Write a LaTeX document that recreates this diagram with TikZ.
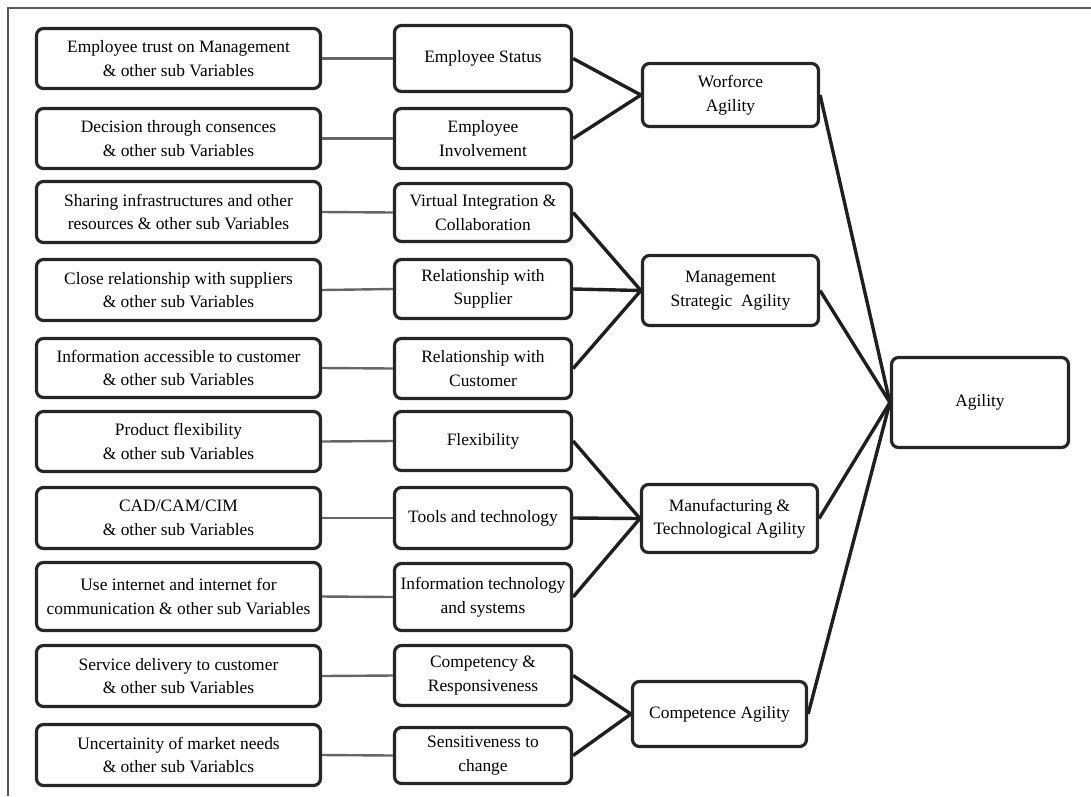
\documentclass[tikz,border=0pt]{standalone}
\usepackage{fontspec}
\setmainfont{Liberation Serif}
\begin{document}
\begin{tikzpicture}[x=1pt,y=-1pt,
  box/.style={draw=black!85, line width=3.2pt, rounded corners=7pt, fill=white,
    align=center, inner sep=2pt, font=\fontsize{17.4}{23.5}\selectfont},
  leftbox/.style={box, minimum width=284pt},
  midbox/.style={box, minimum width=177pt},
  aggbox/.style={box, minimum width=176pt},
  thin/.style={draw=black!60, line width=2.4pt},
  thick/.style={draw=black!88, line width=3.4pt}]
\useasboundingbox (0,0) rectangle (1091,796);
% outer frame
\draw[black!65, line width=1.6pt] (8,796) -- (8,8) -- (1091,8);

% sub-variable boxes
\node[leftbox, minimum height=60pt] (l1) at (178.5,58.5) {Employee trust on Management\\\& other sub Variables};
\node[leftbox, minimum height=60pt] (l2) at (178.5,138.5) {Decision through consences\\\& other sub Variables};
\node[leftbox, minimum height=61pt] (l3) at (178.5,212) {Sharing infrastructures and other\\resources \& other sub Variables};
\node[leftbox, minimum height=61pt] (l4) at (178.5,290) {Close relationship with suppliers\\\& other sub Variables};
\node[leftbox, minimum height=59pt] (l5) at (178.5,368) {Information accessible to customer\\\& other sub Variables};
\node[leftbox, minimum height=60pt] (l6) at (178.5,441.5) {Product flexibility\\\& other sub Variables};
\node[leftbox, minimum height=61pt] (l7) at (178.5,518) {CAD/CAM/CIM\\\& other sub Variables};
\node[leftbox, minimum height=68pt] (l8) at (178.5,596.5) {Use internet and internet for\\communication \& other sub Variables};
\node[leftbox, minimum height=61pt] (l9) at (178.5,676) {Service delivery to customer\\\& other sub Variables};
\node[leftbox, minimum height=61pt] (l10) at (178.5,755) {Uncertainity of market needs\\\& other sub Variablcs};

% variable boxes
\node[midbox, minimum height=66pt] (m1) at (483,58.5) {Employee Status};
\node[midbox, minimum height=60pt] (m2) at (483,138.5) {Employee\\Involvement};
\node[midbox, minimum height=58pt] (m3) at (483,212.5) {Virtual Integration \&\\Collaboration};
\node[midbox, minimum height=59pt] (m4) at (483,289) {Relationship with\\Supplier};
\node[midbox, minimum height=60pt] (m5) at (483,368.5) {Relationship with\\Customer};
\node[midbox, minimum height=59pt] (m6) at (483,441) {Flexibility};
\node[midbox, minimum height=61pt] (m7) at (483,518) {Tools and technology};
\node[midbox, minimum height=67pt] (m8) at (483,597) {Information technology\\and systems};
\node[midbox, minimum height=60pt] (m9) at (483,675.5) {Competency \&\\Responsiveness};
\node[midbox, minimum height=56pt] (m10) at (483,755.5) {Sensitiveness to\\change};

% agility dimensions
\node[aggbox, minimum height=63pt] (wf) at (730.5,95) {Worforce\\Agility};
\node[aggbox, minimum height=70pt] (ms) at (730.5,290.5) {Management\\Strategic\ \ Agility};
\node[aggbox, minimum height=68pt] (mt) at (729.5,518.5) {Manufacturing \&\\Technological Agility};
\node[aggbox, minimum height=65pt, minimum width=174pt] (ca) at (719.5,714) {Competence Agility};

% overall agility
\node[box, minimum width=177pt, minimum height=90pt] (ag) at (980,402.5) {Agility};

% sub-variables to variables
\foreach \i in {1,...,10} \draw[thin] (l\i.east) -- (m\i.west);

% variables to dimensions
\draw[thick] (m1.east) -- (wf.west);
\draw[thick] (m2.east) -- (wf.west);
\draw[thick] (m3.east) -- (ms.west);
\draw[thick] (m4.east) -- (ms.west);
\draw[thick] (m5.east) -- (ms.west);
\draw[thick] (m6.east) -- (mt.west);
\draw[thick] (m7.east) -- (mt.west);
\draw[thick] (m8.east) -- (mt.west);
\draw[thick] (m9.east) -- (ca.west);
\draw[thick] (m10.east) -- (ca.west);

% dimensions to agility
\draw[thick] (wf.east) -- (ag.west);
\draw[thick] (ms.east) -- (ag.west);
\draw[thick] (mt.east) -- (ag.west);
\draw[thick] (ca.east) -- (ag.west);
\end{tikzpicture}
\end{document}
